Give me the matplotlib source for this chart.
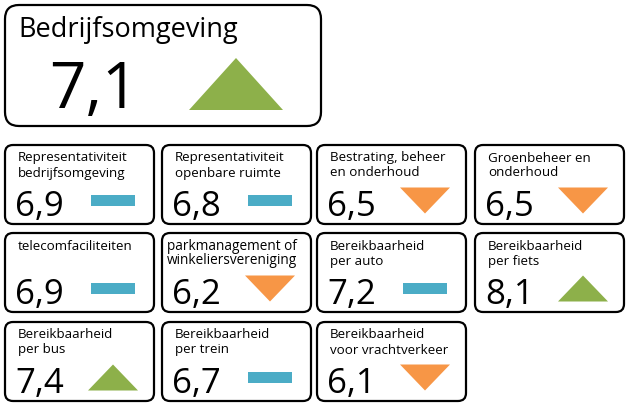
import matplotlib
matplotlib.use("Agg")
import matplotlib.pyplot as plt
from matplotlib.patches import FancyBboxPatch, Polygon, Rectangle

plt.rcParams['font.family'] = ['Open Sans', 'DejaVu Sans']

main_title = "Bedrijfsomgeving"
main_value = "7,1"
main_trend = "up"

titles = [
    "Representativiteit\nbedrijfsomgeving",
    "Representativiteit\nopenbare ruimte",
    "Bestrating, beheer\nen onderhoud",
    "Groenbeheer en\nonderhoud",
    "telecomfaciliteiten",
    "parkmanagement of\nwinkeliersvereniging",
    "Bereikbaarheid\nper auto",
    "Bereikbaarheid\nper fiets",
    "Bereikbaarheid\nper bus",
    "Bereikbaarheid\nper trein",
    "Bereikbaarheid\nvoor vrachtverkeer",
]
values = ["6,9", "6,8", "6,5", "6,5", "6,9", "6,2", "7,2", "8,1", "7,4", "6,7", "6,1"]
trends = ["flat", "flat", "down", "down", "flat", "down", "flat", "up", "up", "flat", "down"]

colors = {"up": "#8DB04A", "down": "#F79646", "flat": "#4BACC6"}

W, H = 630, 407
fig = plt.figure(figsize=(W / 100, H / 100), dpi=100)
ax = fig.add_axes([0, 0, 1, 1])
ax.set_xlim(0, W)
ax.set_ylim(H, 0)
ax.axis('off')


def indicator(kind, cx, cy, w, h):
    if kind == "flat":
        ax.add_patch(Rectangle((cx - 22, cy - 5.5), 44, 11, color=colors[kind], lw=0))
    elif kind == "up":
        ax.add_patch(Polygon([(cx - w / 2, cy + h / 2), (cx + w / 2, cy + h / 2), (cx, cy - h / 2)],
                             closed=True, color=colors[kind], lw=0))
    else:
        ax.add_patch(Polygon([(cx - w / 2, cy - h / 2), (cx + w / 2, cy - h / 2), (cx, cy + h / 2)],
                             closed=True, color=colors[kind], lw=0))


def box(x, y, w, h, r):
    ax.add_patch(FancyBboxPatch((x + r, y + r), w - 2 * r, h - 2 * r,
                                boxstyle=f"round,pad={r}", fc='white', ec='black', lw=1.6))


# main box
box(5, 5, 316, 121, 14)
ax.text(18, 36.5, main_title, fontsize=19.5, fontweight='medium', va='baseline', ha='left', color='black')
ax.text(49, 108, main_value, fontsize=46, va='baseline', ha='left', color='black')
indicator(main_trend, 236, 84, 94, 52)

# small boxes
col_x = [5, 162, 317, 475]
row_y = [145, 233, 322]
for i, (t, v, k) in enumerate(zip(titles, values, trends)):
    r, c = divmod(i, 4)
    x0, y0 = col_x[c], row_y[r]
    box(x0, y0, 149, 79, 8)
    lines = t.split("\n")
    long = max(len(s) for s in lines) > 19
    tx = x0 + 5 if long else x0 + 13
    for j, line in enumerate(lines):
        ax.text(tx, y0 + 16.5 + 15 * j, line, fontsize=9.8 if long else 9.6, fontweight='medium',
                va='baseline', ha='left', color='black')
    ax.text(x0 + 10, y0 + 71, v, fontsize=25, va='baseline', ha='left', color='black')
    indicator(k, x0 + 108, y0 + 55.5, 50, 26)

fig.savefig("out.png", dpi=100)
